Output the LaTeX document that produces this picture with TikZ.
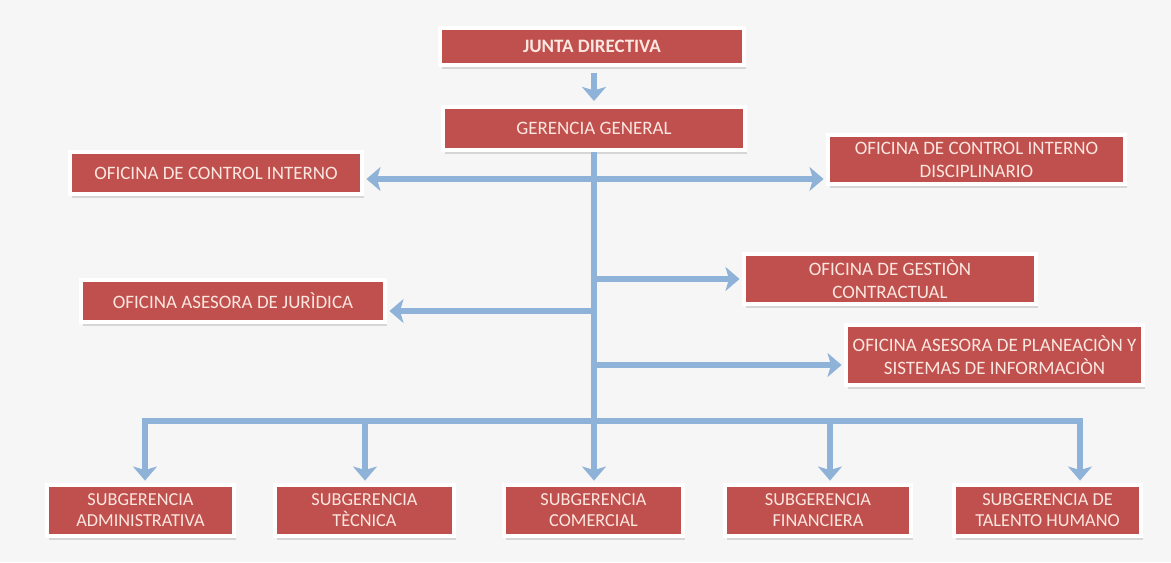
\documentclass[tikz,border=0pt]{standalone}
\usepackage{fontspec}
\setmainfont{Carlito}
\usetikzlibrary{arrows.meta,shadows}
\definecolor{rojo}{RGB}{192,80,77}
\definecolor{azul}{RGB}{143,178,216}
\definecolor{letra}{RGB}{252,230,224}
\definecolor{fondo}{RGB}{246,246,246}

\begin{document}
\begin{tikzpicture}[x=0.025cm,y=-0.025cm,
	caja/.style={fill=rojo,draw=white,line width=1mm,text=letra,inner sep=0pt,align=center,
		font=\fontsize{13.5}{16.5}\selectfont,
		drop shadow={shadow xshift=0.5mm,shadow yshift=-1.1mm,opacity=0.22,fill=black!60}},
	sub/.style={caja,minimum width=4.475cm,minimum height=1.275cm,font=\fontsize{13}{15}\selectfont},
	flecha/.style={draw=azul,line width=4pt,->,shorten >=0.6mm},
	>={Stealth[length=10pt,width=17pt,inset=2.5pt]}]
		% fondo
		\fill[fondo] (0,0) rectangle (1171,562);
		\useasboundingbox (0,0) rectangle (1171,562);
		% direccion
		\node[caja,minimum width=7.6cm,minimum height=0.925cm,font=\bfseries\fontsize{13.5}{16.5}\selectfont] (junta) at (592,46.5) {JUNTA DIRECTIVA};
		\node[caja,minimum width=7.55cm,minimum height=1.075cm] (gerencia) at (594,128.5) {GERENCIA GENERAL};
		% oficinas
		\node[caja,minimum width=7.3cm,minimum height=1.05cm] (control) at (216,173) {OFICINA DE CONTROL INTERNO};
		\node[caja,minimum width=7.425cm,minimum height=1.225cm] (disciplinario) at (976.5,159.5) {OFICINA DE CONTROL INTERNO\\DISCIPLINARIO};
		\node[caja,minimum width=7.3cm,minimum height=1.25cm] (gestion) at (890,279) {OFICINA DE GESTIÒN\\CONTRACTUAL};
		\node[caja,minimum width=7.6cm,minimum height=1.05cm] (juridica) at (233,301) {OFICINA ASESORA DE JURÌDICA};
		\node[caja,minimum width=7.425cm,minimum height=1.5cm] (planeacion) at (994.5,355) {OFICINA ASESORA DE PLANEACIÒN Y\\SISTEMAS DE INFORMACIÒN};
		% subgerencias
		\node[sub,minimum width=4.675cm] (admin) at (140.5,510.5) {SUBGERENCIA\\ADMINISTRATIVA};
		\node[sub] (tecnica) at (364.5,510.5) {SUBGERENCIA\\TÈCNICA};
		\node[sub] (comercial) at (593.5,510.5) {SUBGERENCIA\\COMERCIAL};
		\node[sub,minimum width=4.65cm] (financiera) at (818,510.5) {SUBGERENCIA\\FINANCIERA};
		\node[sub,minimum width=4.675cm] (talento) at (1047.5,510.5) {SUBGERENCIA DE\\TALENTO HUMANO};
		% puntos del tronco
		\coordinate (c1) at (594,179);
		\coordinate (t1) at (594,279);
		\coordinate (t2) at (594,311);
		\coordinate (t3) at (594,365);
		\coordinate (b1) at (145,421);
		\coordinate (b2) at (1080,421);
		\coordinate (b3) at (365,421);
		\coordinate (b4) at (830,421);
		% flechas
		\draw[flecha,shorten <=1.5mm,shorten >=1mm] (gerencia.north |- junta.south) -- (gerencia.north);
		\draw[flecha] (gerencia.south) -- (gerencia.south |- comercial.north);
		\draw[flecha,<->,shorten <=0.6mm] (c1 -| control.east) -- (c1 -| disciplinario.west);
		\draw[flecha] (t1) -- (t1 -| gestion.west);
		\draw[flecha] (t2) -- (t2 -| juridica.east);
		\draw[flecha] (t3) -- (t3 -| planeacion.west);
		\draw[flecha,<->,shorten <=0.6mm,line join=miter] (b1 |- admin.north) -- (b1) -- (b2) -- (b2 |- talento.north);
		\foreach \c/\n in {b3/tecnica,b4/financiera}
			\draw[flecha] (\c) -- (\c |- \n.north);
\end{tikzpicture}
\end{document}
